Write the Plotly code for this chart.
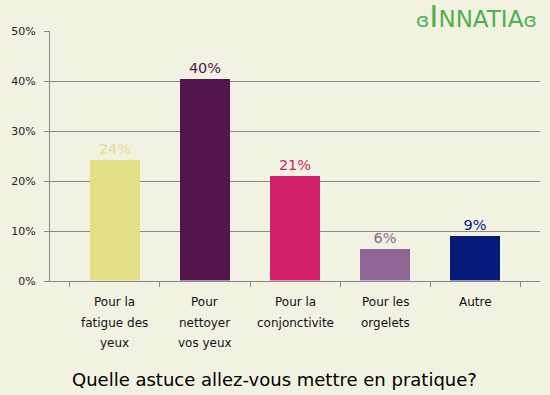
import plotly.graph_objects as go

categories = ["Pour la<br>fatigue des<br>yeux", "Pour<br>nettoyer<br>vos yeux", "Pour la<br>conjonctivite",
              "Pour les<br>orgelets", "Autre"]
values = [24.2, 40.4, 21.0, 6.4, 9.0]
value_labels = ["24%", "40%", "21%", "6%", "9%"]
colors = ["#e5df87", "#52164d", "#d41f6a", "#906494", "#061a7a"]
y_ticks = [0, 10, 20, 30, 40, 50]
y_tick_labels = ["0%", "10%", "20%", "30%", "40%", "50%"]
title = "Quelle astuce allez-vous mettre en pratique?"

bg = "#f2f2e2"
x_idx = list(range(len(categories)))

fig = go.Figure()
fig.add_trace(go.Bar(
    x=x_idx, y=values, width=0.556,
    marker=dict(color=colors, line=dict(width=0)),
    text=value_labels, textposition="outside", cliponaxis=False,
    textfont=dict(color=colors, size=14.5, family="DejaVu Sans"),
    hoverinfo="skip",
))

annotations = []
for i, lab in enumerate(categories):
    for j, line in enumerate(lab.split("<br>")):
        annotations.append(dict(
            x=i, xref="x", y=0, yref="paper", yanchor="middle",
            yshift=-21 - 20.5 * j, text=line, showarrow=False,
            font=dict(size=12, family="DejaVu Sans", color="#111")))
annotations.append(dict(
    x=0.458, xref="paper", y=-0.394, yref="paper", yanchor="middle",
    text=title, showarrow=False, font=dict(size=18, family="DejaVu Sans", color="#000")))
annotations.append(dict(
    x=1.0, xref="paper", y=1.0, yref="paper", yanchor="bottom", xanchor="right",
    xshift=-2, yshift=-4, borderpad=0,
    text="<span style='font-size:20px'>ɞ</span><span style='font-size:31px'>I</span>NNATIA<span style='font-size:20px'>ɞ</span>",
    showarrow=False, font=dict(size=23, family="DejaVu Sans", color="#4fb04c")))

fig.update_layout(
    width=550, height=395,
    margin=dict(l=50, r=10, t=31, b=114),
    paper_bgcolor=bg, plot_bgcolor=bg,
    showlegend=False,
    annotations=annotations,
    bargap=0,
    xaxis=dict(
        range=[-0.722, 4.722], tickvals=x_idx, ticktext=[""] * len(x_idx),
        showgrid=False, zeroline=False,
        showline=False, ticks="", fixedrange=True,
    ),
    yaxis=dict(
        range=[0, 50], tickvals=y_ticks, ticktext=y_tick_labels,
        showgrid=True, gridcolor="#888888", gridwidth=1,
        zeroline=False, showline=True, linecolor="#888888", linewidth=1,
        ticks="outside", ticklen=5, tickcolor="#888888",
        ticklabelstandoff=6,
        tickfont=dict(size=11, family="DejaVu Sans", color="#222"),
        fixedrange=True,
    ),
)
fig.add_trace(go.Bar(x=["a", "b", "c", "d", "e"], y=[0] * 5, xaxis="x2", hoverinfo="skip",
                     marker=dict(color="rgba(0,0,0,0)")))
fig.update_layout(xaxis2=dict(
    overlaying="x", side="bottom", anchor="y",
    range=[-0.722, 4.722], tickson="boundaries", ticks="outside", ticklen=5,
    tickcolor="#888888", showticklabels=False, showgrid=False, zeroline=False,
    showline=True, linecolor="#888888", linewidth=1, fixedrange=True,
))

fig.write_html("out.html", config={"displayModeBar": False},
               post_script="document.body.style.margin='0';document.body.style.overflow='hidden';document.body.style.background='%s';" % bg)
